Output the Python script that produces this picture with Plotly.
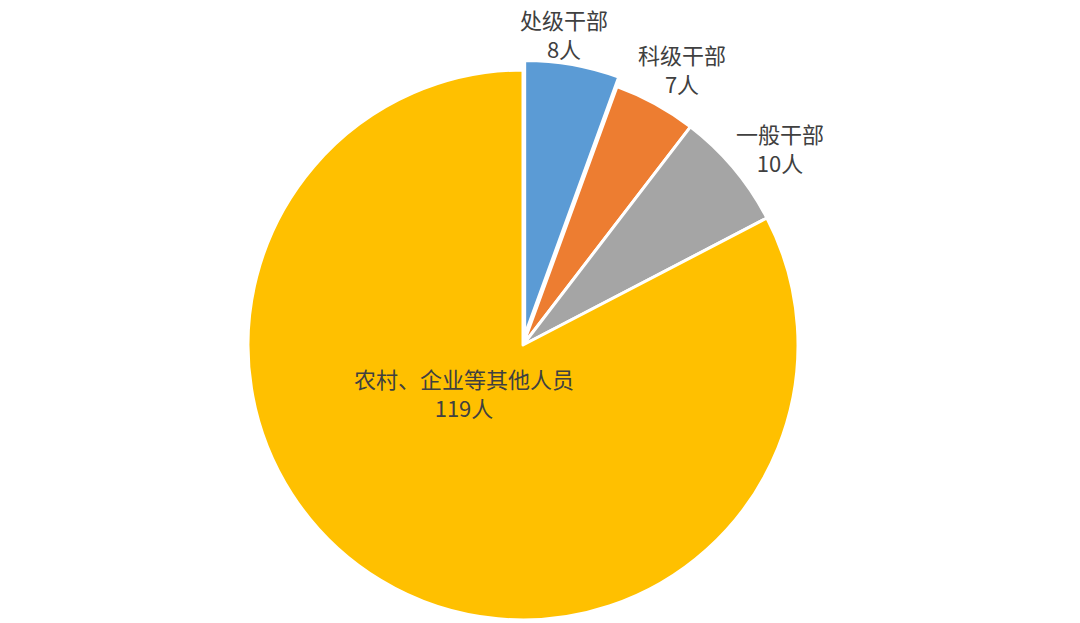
import math
import plotly.graph_objects as go

labels = ["处级干部", "科级干部", "一般干部", "农村、企业等其他人员"]
values = [8, 7, 10, 119]
colors = ["#5B9BD5", "#ED7D31", "#A5A5A5", "#FFC000"]
pulls = [0.035, 0, 0, 0]
# label placement: distance from centre (share of radius) and turn off the slice middle (degrees)
label_dist = [1.142, 1.16, 1.18, 0.275]
label_turn = [-2.5, 1.1, 2.5, 20.25]

W, H = 1080, 623
# the page body adds an 8px margin, so the pie sits 8px up/left in figure space
cx, cy = 515, 337
r = 275
half = r * (1 + max(pulls))

fig = go.Figure()
fig.add_trace(go.Pie(
    labels=labels,
    values=values,
    sort=False,
    direction="clockwise",
    rotation=0,
    pull=pulls,
    marker=dict(colors=colors, line=dict(color="white", width=3)),
    textinfo="none",
    hoverinfo="label+value",
    domain=dict(x=[(cx - half) / W, (cx + half) / W],
                y=[1 - (cy + half) / H, 1 - (cy - half) / H]),
    showlegend=False,
))

total = sum(values)
start = 0
for lab, v, k, turn in zip(labels, values, label_dist, label_turn):
    mid = (start + v / 2) / total * 2 * math.pi + math.radians(turn)
    start += v
    px = cx + k * r * math.sin(mid)
    py = cy - k * r * math.cos(mid)
    fig.add_annotation(
        x=px / W, y=1 - py / H, xref="paper", yref="paper",
        xanchor="center", yanchor="middle",
        text=f"{lab}<br>{v}人", showarrow=False,
        font=dict(family="Noto Sans CJK SC", size=22, color="#404040"),
        align="center",
    )

fig.update_layout(
    width=W, height=H,
    margin=dict(l=0, r=0, t=0, b=0),
    paper_bgcolor="white",
    plot_bgcolor="white",
)

fig.write_html("out.html")
